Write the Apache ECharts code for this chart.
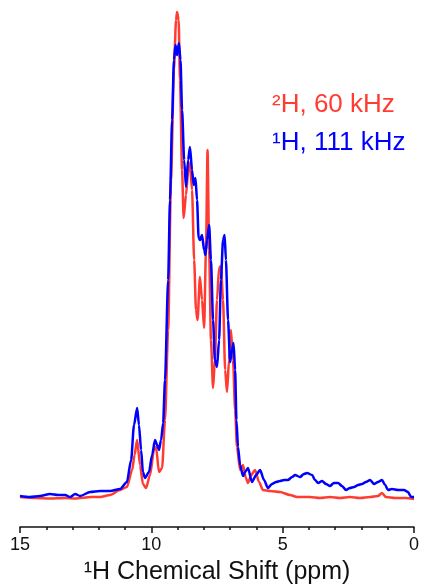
<!DOCTYPE html>
<html>
<head>
<meta charset="utf-8">
<title>1H NMR</title>
<script src="https://cdn.jsdelivr.net/npm/echarts@6/dist/echarts.min.js"></script>
<style>
  html, body { margin: 0; padding: 0; background: #fff; }
  #chart { width: 421px; height: 587px; }
</style>
</head>
<body>
<div id="chart"></div>
<script>
// chemical shift (ppm) and intensity (arb. units)
var redShift = [15.0, 14.4, 13.86, 13.3, 12.9, 12.3, 11.95, 11.57, 11.19, 10.93, 10.73, 10.64, 10.54, 10.43, 10.32, 10.2, 10.05, 9.9, 9.82, 9.71, 9.59, 9.48, 9.36, 9.25, 9.14, 9.06, 9.02, 8.96, 8.91, 8.83, 8.77, 8.68, 8.6, 8.53, 8.45, 8.37, 8.3, 8.24, 8.15, 8.07, 7.99, 7.92, 7.86, 7.8, 7.73, 7.65, 7.58, 7.5, 7.42, 7.35, 7.27, 7.19, 7.12, 7.04, 6.97, 6.89, 6.81, 6.74, 6.62, 6.51, 6.4, 6.32, 6.2, 6.05, 5.9, 5.75, 5.48, 5.1, 4.72, 4.45, 3.96, 3.58, 3.2, 2.82, 2.44, 2.06, 1.67, 1.37, 1.22, 1.07, 0.72, 0.34, 0.0];
var redIntensity = [0.6, 0.4, 0.3, 0.4, 0.3, 0.6, 0.6, 1.0, 2.0, 2.6, 6.0, 9.0, 12.0, 7.0, 3.2, 2.4, 5.0, 10.0, 10.6, 5.6, 6.4, 16, 34, 64, 86, 96, 97.6, 96, 84, 66, 56.4, 61, 65.6, 67.4, 62, 48, 38, 36, 44.6, 40, 34.4, 50, 70, 50, 32, 22.4, 28, 40, 46.4, 46.8, 40, 26, 21.6, 28, 34, 28, 18, 10.6, 6, 7, 4.4, 3.4, 5, 6, 3.6, 2, 1.8, 1.6, 1.0, 0.6, 0.6, 0.4, 0.6, 0.4, 0.6, 0.4, 0.6, 0.8, 1.4, 0.6, 0.4, 0.4, 0.2];

var blueShift = [15.0, 14.62, 14.24, 13.86, 13.55, 13.28, 13.09, 12.9, 12.71, 12.33, 11.95, 11.57, 11.19, 10.93, 10.77, 10.66, 10.54, 10.47, 10.39, 10.32, 10.24, 10.09, 9.97, 9.86, 9.78, 9.71, 9.63, 9.55, 9.48, 9.36, 9.29, 9.21, 9.14, 9.08, 9.02, 8.95, 8.89, 8.83, 8.75, 8.68, 8.6, 8.53, 8.45, 8.39, 8.32, 8.26, 8.2, 8.15, 8.07, 7.99, 7.94, 7.88, 7.8, 7.73, 7.65, 7.58, 7.5, 7.42, 7.35, 7.27, 7.21, 7.16, 7.08, 7.0, 6.93, 6.87, 6.81, 6.76, 6.7, 6.62, 6.51, 6.43, 6.32, 6.17, 6.01, 5.86, 5.71, 5.56, 5.41, 5.25, 5.1, 4.95, 4.8, 4.64, 4.53, 4.34, 4.19, 4.07, 3.88, 3.77, 3.65, 3.5, 3.35, 3.2, 3.05, 2.89, 2.74, 2.59, 2.44, 2.28, 2.13, 1.98, 1.83, 1.67, 1.52, 1.37, 1.22, 1.1, 0.99, 0.84, 0.61, 0.38, 0.23, 0.11, 0.0];
var blueIntensity = [0.8, 0.6, 0.8, 1.2, 1.0, 1.0, 0.6, 1.2, 0.8, 1.6, 1.8, 1.8, 2.2, 3.6, 8, 15, 18.4, 15, 10, 5.6, 4.4, 5.6, 9, 12, 11, 10, 12, 15.4, 24, 44, 60, 76, 88, 91, 89, 91.4, 88, 78, 68, 62.6, 68, 70.6, 66, 63, 64.4, 60, 52.4, 52, 53, 50, 49, 52, 55, 48, 36, 28, 26.6, 32, 44, 52, 53, 48, 36, 27.6, 30, 31.4, 26, 16, 10.6, 7, 4.8, 5.6, 6.4, 3.6, 5, 6, 4, 2.4, 3.2, 3.6, 3.8, 4, 4, 4.6, 5, 4.6, 5.2, 5.4, 5, 4, 3.4, 3.8, 3.2, 2.8, 3.4, 3.4, 2.8, 2, 2.4, 2.6, 3, 3.2, 3.6, 4, 3.2, 3.6, 4, 3, 2, 2.2, 2, 2, 1.6, 0.6, 0.6];

var xTicks = [0, 5, 10, 15];

var redColor = '#ff3c32';
var blueColor = '#0000ff';
var font = 'Liberation Sans, Arial, sans-serif';

function pairs(xs, ys) {
  return xs.map(function (x, i) { return [x, ys[i]]; });
}

var chart = echarts.init(document.getElementById('chart'));

var option = {
  backgroundColor: '#fff',
  animation: false,
  textStyle: { fontFamily: font },
  grid: {
    left: 20,
    right: 7,
    top: 0,
    bottom: 87,
    outerBoundsMode: 'none'
  },
  xAxis: {
    type: 'value',
    inverse: true,
    min: xTicks[0],
    max: xTicks[xTicks.length - 1],
    interval: 5,
    offset: 27,
    name: '\u00b9H Chemical Shift (ppm)',
    nameLocation: 'middle',
    nameGap: 33,
    nameTextStyle: {
      color: '#111',
      fontSize: 25,
      fontFamily: font
    },
    axisLine: {
      onZero: false,
      lineStyle: { color: '#111', width: 1.5 }
    },
    axisTick: {
      length: 6,
      lineStyle: { color: '#111', width: 1.5 }
    },
    minorTick: {
      show: true,
      splitNumber: 5,
      length: 3,
      lineStyle: { color: '#111', width: 1.5 }
    },
    axisLabel: {
      color: '#111',
      fontSize: 18,
      margin: 9,
      fontFamily: font
    },
    splitLine: { show: false }
  },
  yAxis: {
    type: 'value',
    min: 0,
    max: 100,
    show: false
  },
  graphic: [
    {
      type: 'text',
      left: 272,
      top: 92,
      style: {
        text: '\u00b2H, 60 kHz',
        fill: redColor,
        fontSize: 26,
        fontFamily: font
      }
    },
    {
      type: 'text',
      left: 272,
      top: 130,
      style: {
        text: '\u00b9H, 111 kHz',
        fill: blueColor,
        fontSize: 26,
        fontFamily: font
      }
    }
  ],
  series: [
    {
      name: '2H, 60 kHz',
      type: 'line',
      data: pairs(redShift, redIntensity),
      showSymbol: false,
      smooth: 0.25,
      smoothMonotone: 'x',
      clip: false,
      lineStyle: { color: redColor, width: 2.5 }
    },
    {
      name: '1H, 111 kHz',
      type: 'line',
      data: pairs(blueShift, blueIntensity),
      showSymbol: false,
      smooth: 0.25,
      smoothMonotone: 'x',
      clip: false,
      lineStyle: { color: blueColor, width: 2.5 }
    }
  ]
};

chart.setOption(option);
</script>
</body>
</html>
